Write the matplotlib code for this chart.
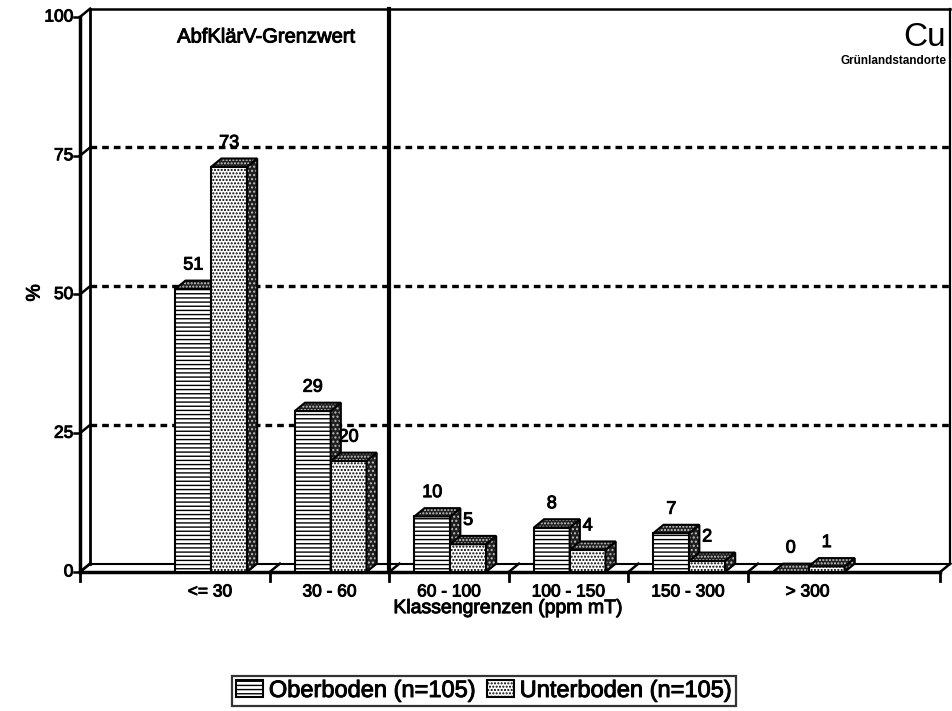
import matplotlib
matplotlib.use('Agg')
import matplotlib.pyplot as plt
import matplotlib.patheffects as pe
from matplotlib.patches import Polygon, Patch

plt.rcParams['font.family'] = ['Liberation Sans', 'DejaVu Sans']
plt.rcParams['hatch.linewidth'] = 1.0

# Data
categories = ['<= 30', '30 - 60', '60 - 100', '100 - 150', '150 - 300', '> 300']
oberboden = [51, 29, 10, 8, 7, 0]
unterboden = [73, 20, 5, 4, 2, 1]
y_ticks = [0, 25, 50, 75, 100]
grid_levels = [25, 50, 75]
tick_bounds = [0.5, 1.5, 2.5, 3.5, 4.5]
series_labels = ['Oberboden (n=105)', 'Unterboden (n=105)']

# pseudo-3D geometry (x in category units, y in percent)
DX, DY = 0.085, 1.5
X_LEFT, X_RIGHT = -1.088, 6.11
BAR_W = 0.3
LIMIT_X = 1.5

K = 'black'
heavy = [pe.withStroke(linewidth=0.7, foreground=K)]

fig = plt.figure(figsize=(9.52, 7.11), dpi=100)
ax = fig.add_axes([0, 0, 1, 1])
ax.set_xlim(-1.757, 6.209)
ax.set_ylim(-25.05, 103.06)
ax.axis('off')


def label(x, y, s, **kw):
    kw.setdefault('ha', 'center')
    kw.setdefault('va', 'center')
    return ax.text(x, y, s, path_effects=heavy, zorder=10, **kw)


# back wall + dashed grid
for v in grid_levels:
    ax.plot([X_LEFT + DX, X_RIGHT + DX], [v + DY, v + DY], color=K, lw=2.4,
            dashes=(2.0, 1.5), zorder=1)
ax.plot([X_LEFT + DX, X_LEFT + DX], [DY, 100 + DY], color=K, lw=2, zorder=2)
ax.plot([X_LEFT + DX, X_RIGHT + DX], [100 + DY, 100 + DY], color=K, lw=1.8, zorder=2)
ax.plot([X_RIGHT + DX, X_RIGHT + DX], [DY, 100 + DY], color=K, lw=1.6, zorder=2)

# front y axis with ticks
ax.plot([X_LEFT, X_LEFT], [0, 100], color=K, lw=2.5, zorder=2)
for v in y_ticks:
    ax.plot([X_LEFT - 0.05, X_LEFT], [v, v], color=K, lw=1.8, zorder=2)
    ax.plot([X_LEFT, X_LEFT + DX], [v, v + DY], color=K, lw=1.8, zorder=2)
    label(X_LEFT - 0.055, v, str(v), ha='right', fontsize=12.5)

# floor
ax.plot([X_LEFT, X_RIGHT], [0, 0], color=K, lw=2.5, zorder=2)
ax.plot([X_LEFT + DX, X_RIGHT + DX], [DY, DY], color=K, lw=1.5, zorder=2)
for b in [X_LEFT] + tick_bounds + [X_RIGHT]:
    ax.plot([b, b + DX], [0, DY], color=K, lw=1.8, zorder=2)
    ax.plot([b, b], [0, -1.6], color=K, lw=2, zorder=2)

# limit line
ax.plot([LIMIT_X, LIMIT_X], [0, 100 + DY], color=K, lw=3, zorder=2)


def draw_bar(x0, h, hatch):
    front = [(x0, 0), (x0 + BAR_W, 0), (x0 + BAR_W, h), (x0, h)]
    top = [(x0, h), (x0 + DX, h + DY), (x0 + BAR_W + DX, h + DY), (x0 + BAR_W, h)]
    side = [(x0 + BAR_W, 0), (x0 + BAR_W + DX, DY), (x0 + BAR_W + DX, h + DY),
            (x0 + BAR_W, h)]
    if h > 0:
        ax.add_patch(Polygon(front, facecolor='white', edgecolor=K, hatch=hatch,
                             lw=1.5, zorder=3))
        ax.add_patch(Polygon(side, facecolor='0.12', edgecolor='0.75', hatch='....',
                             lw=0, zorder=3))
        ax.add_patch(Polygon(side, fill=False, edgecolor=K, lw=1.5, zorder=3))
    ax.add_patch(Polygon(top, facecolor='0.12', edgecolor='0.8', hatch='.....',
                         lw=0, zorder=3))
    ax.add_patch(Polygon(top, fill=False, edgecolor=K, lw=1.5, zorder=3))
    label(x0 + BAR_W / 2, h + 4.3, str(h), fontsize=13)


for i, (o, u) in enumerate(zip(oberboden, unterboden)):
    draw_bar(i - 0.29, o, '----')
    draw_bar(i + 0.01, u, '.....')

# category labels
for i, c in enumerate(categories):
    label(i, -3.6, c, fontsize=12.5)
label(2.5, -6.6, 'Klassengrenzen (ppm mT)', fontsize=14)

label(-1.464, 50.3, '%', fontsize=14, rotation=90)
label(0.47, 96.4, 'AbfKlärV-Grenzwert', fontsize=14.5)
ax.text(6.155, 94.8, 'Cu', ha='right', va='baseline', fontsize=24, zorder=10)
ax.text(6.165, 92.1, 'Grünlandstandorte', ha='right', va='center', fontsize=8.5,
        fontweight='bold', zorder=10)

handles = [Patch(facecolor='white', edgecolor=K, hatch='----', lw=1.5),
           Patch(facecolor='white', edgecolor=K, hatch='.....', lw=1.5)]
leg = fig.legend(handles, series_labels, loc='center', ncol=2,
                 bbox_to_anchor=(484 / 952, 1 - 691 / 711), fontsize=17,
                 frameon=True, fancybox=False, edgecolor=K, handlelength=1.15,
                 handleheight=0.7, handletextpad=0.25, columnspacing=0.45,
                 borderpad=0.15, borderaxespad=0)
leg.get_frame().set_linewidth(1.6)
for t in leg.get_texts():
    t.set_path_effects(heavy)

fig.savefig('out.png', dpi=100)
